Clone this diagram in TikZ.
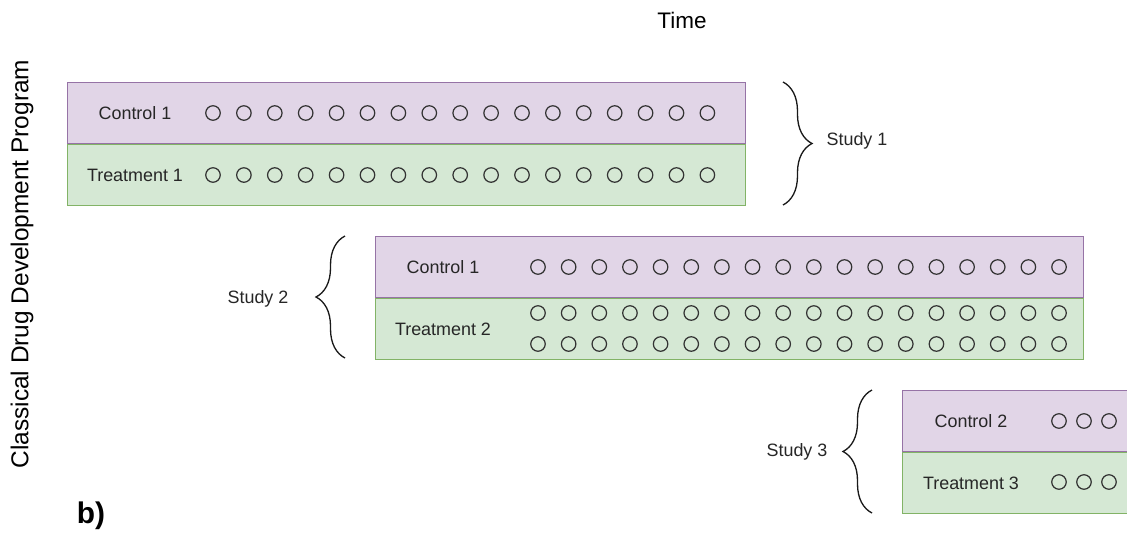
\documentclass[tikz,border=0pt]{standalone}
\usepackage{fontspec}
\setmainfont{Liberation Sans}
\usetikzlibrary{decorations.pathreplacing}

\definecolor{ctrlfill}{HTML}{E1D5E7}
\definecolor{ctrldraw}{HTML}{9673A6}
\definecolor{trtfill}{HTML}{D5E8D4}
\definecolor{trtdraw}{HTML}{82B366}

\tikzset{
  arm/.style={rectangle, anchor=north west, minimum height=1.23cm, inner sep=0pt, line width=0.6pt},
  ctrl/.style={arm, fill=ctrlfill, draw=ctrldraw},
  trt/.style={arm, fill=trtfill, draw=trtdraw},
  pt/.style={circle, draw=black!80, minimum size=0.29cm, inner sep=0pt, line width=0.7pt},
  lbl/.style={font=\fontsize{10.2}{12}\selectfont, text=black!85},
  studybrace/.style={decorate, decoration={brace, amplitude=0.58cm}, line width=0.75pt, draw=black!90}
}

\begin{document}
\begin{tikzpicture}[x=0.02cm, y=-0.02cm]
    \useasboundingbox (0,0) rectangle (1127,532);

    \node[font=\fontsize{12.8}{15}\selectfont] (time) at (682,20) {Time};
    \node[rotate=90, font=\fontsize{13.9}{16}\selectfont] (prog) at (22,264) {Classical Drug Development Program};
    \node[font=\bfseries\fontsize{17}{20}\selectfont] (panel) at (91,516) {b)};

    % study 1
    \node[ctrl, minimum width=13.56cm] (c1) at (67,82) {};
    \node[trt, minimum width=13.56cm] (t1) at (67,143.5) {};
    \node[lbl] (c1l) at (135,113) {Control 1};
    \node[lbl] (t1l) at (135,175) {Treatment 1};
    \foreach \i in {0,...,16} {
      \node[pt] (c1p\i) at (213+30.9*\i, 113) {};
      \node[pt] (t1p\i) at (213+30.9*\i, 175) {};
    }
    \coordinate (b1top) at (783,82);
    \coordinate (b1bot) at (783,205);
    \draw[studybrace] (b1top) -- (b1bot);
    \node[lbl] (s1) at (857,141) {Study 1};

    % study 2
    \node[ctrl, minimum width=14.16cm] (c2) at (375,236) {};
    \node[trt, minimum width=14.16cm] (t2) at (375,297.5) {};
    \node[lbl] (c2l) at (443,267) {Control 1};
    \node[lbl] (t2l) at (443,329) {Treatment 2};
    \foreach \i in {0,...,17} {
      \node[pt] (c2p\i) at (538+30.65*\i, 267) {};
      \node[pt] (t2p\i) at (538+30.65*\i, 313) {};
      \node[pt] (t2q\i) at (538+30.65*\i, 344) {};
    }
    \coordinate (b2top) at (345,236);
    \coordinate (b2bot) at (345,358);
    \draw[studybrace] (b2bot) -- (b2top);
    \node[lbl] (s2) at (258,299) {Study 2};

    % study 3
    \node[ctrl, minimum width=5cm] (c3) at (902,390) {};
    \node[trt, minimum width=5cm] (t3) at (902,451.5) {};
    \node[lbl] (c3l) at (971,421) {Control 2};
    \node[lbl] (t3l) at (971,483) {Treatment 3};
    \foreach \i in {0,...,2} {
      \node[pt] (c3p\i) at (1059+25*\i, 421) {};
      \node[pt] (t3p\i) at (1059+25*\i, 482) {};
    }
    \coordinate (b3top) at (872,390);
    \coordinate (b3bot) at (872,513);
    \draw[studybrace] (b3bot) -- (b3top);
    \node[lbl] (s3) at (797,452) {Study 3};
\end{tikzpicture}
\end{document}
